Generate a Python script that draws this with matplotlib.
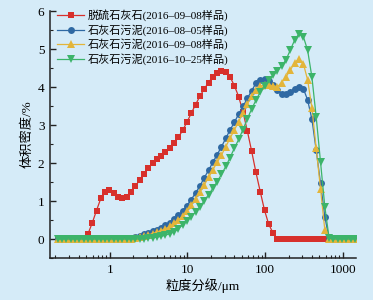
import matplotlib
matplotlib.use("Agg")
import matplotlib.pyplot as plt
from matplotlib.ticker import MultipleLocator, LogLocator, NullFormatter, FixedLocator, FixedFormatter

plt.rcParams['font.family'] = ['Liberation Serif', 'Noto Sans CJK SC']
plt.rcParams['axes.unicode_minus'] = False

# particle size classes (um)
sizes = [0.214, 0.243, 0.276, 0.314, 0.357, 0.405, 0.46, 0.523, 0.594, 0.675,
         0.767, 0.872, 0.991, 1.13, 1.28, 1.45, 1.65, 1.88, 2.13, 2.42,
         2.75, 3.12, 3.55, 4.03, 4.58, 5.21, 5.92, 6.72, 7.64, 8.68,
         9.86, 11.2, 12.7, 14.5, 16.4, 18.7, 21.2, 24.1, 27.4, 31.1,
         35.3, 40.1, 45.6, 51.8, 58.9, 66.9, 76.0, 86.4, 98.1, 111,
         127, 144, 163, 186, 211, 240, 272, 310, 352, 400,
         454, 516, 586, 666, 756, 859, 976, 1110, 1260, 1430]

labels = ["脱硫石灰石(2016–09–08样品)",
          "石灰石污泥(2016–08–05样品)",
          "石灰石污泥(2016–09–08样品)",
          "石灰石污泥(2016–10–25样品)"]

# volume density, %
red = [0, 0, 0, 0, 0, 0, 0, 0.13, 0.42, 0.75,
       1.07, 1.25, 1.28, 1.20, 1.11, 1.07, 1.11, 1.24, 1.39, 1.55,
       1.71, 1.87, 1.99, 2.10, 2.19, 2.28, 2.39, 2.52, 2.68, 2.86,
       3.08, 3.31, 3.54, 3.76, 3.95, 4.12, 4.27, 4.38, 4.42, 4.39,
       4.27, 4.04, 3.75, 3.35, 2.85, 2.32, 1.76, 1.25, 0.76, 0.39,
       0.15, 0, 0, 0, 0, 0, 0, 0, 0, 0,
       0, 0, 0]
blue = [0, 0, 0, 0, 0, 0, 0, 0, 0, 0,
        0, 0, 0, 0, 0, 0, 0, 0, 0.05, 0.09,
        0.13, 0.17, 0.21, 0.24, 0.29, 0.36, 0.43, 0.53, 0.62, 0.75,
        0.88, 1.04, 1.21, 1.40, 1.61, 1.81, 2.02, 2.22, 2.43, 2.65,
        2.87, 3.07, 3.29, 3.49, 3.70, 3.90, 4.10, 4.18, 4.20, 4.16,
        4.05, 3.92, 3.82, 3.81, 3.88, 3.96, 4.01, 3.96, 3.66, 3.15,
        2.34, 1.47, 0.59, 0, 0, 0, 0, 0, 0, 0]
yellow = [0, 0, 0, 0, 0, 0, 0, 0, 0, 0,
          0, 0, 0, 0, 0, 0, 0, 0, 0.02, 0.05,
          0.08, 0.11, 0.14, 0.18, 0.22, 0.27, 0.33, 0.41, 0.50, 0.61,
          0.74, 0.89, 1.06, 1.23, 1.42, 1.62, 1.82, 2.02, 2.21, 2.43,
          2.65, 2.87, 3.09, 3.32, 3.55, 3.77, 3.91, 4.02, 4.06, 4.05,
          4.03, 4.01, 4.12, 4.27, 4.45, 4.64, 4.74, 4.62, 4.19, 3.45,
          2.39, 1.32, 0.24, 0, 0, 0, 0, 0, 0, 0]
green = [0, 0, 0, 0, 0, 0, 0, 0, 0, 0,
         0, 0, 0, 0, 0, 0, 0, 0, 0, 0,
         0.01, 0.02, 0.03, 0.05, 0.07, 0.10, 0.14, 0.19, 0.27, 0.37,
         0.48, 0.59, 0.71, 0.85, 1.00, 1.17, 1.33, 1.51, 1.70, 1.91,
         2.14, 2.39, 2.62, 2.88, 3.16, 3.42, 3.65, 3.87, 4.04, 4.18,
         4.31, 4.43, 4.56, 4.72, 4.98, 5.24, 5.40, 5.33, 4.97, 4.26,
         3.21, 2.03, 0.85, 0.02, 0, 0, 0, 0, 0, 0]

bg = "#d5ebf8"
fig = plt.figure(figsize=(3.73, 3.0), dpi=100, facecolor=bg)
ax = fig.add_axes([0.134, 0.14, 0.82, 0.823], facecolor=bg)

styles = [("s", "#d7302c", 4.5), ("o", "#2f69a3", 5.0),
          ("^", "#e3b53a", 5.5), ("v", "#3cb46a", 5.5)]
for ys, (m, c, ms), lab in zip([red, blue, yellow, green], styles, labels):
    ax.plot(sizes[:len(ys)], ys, marker=m, color=c, ms=ms, mew=0, lw=0.9, label=lab)

ax.set_xscale("log")
ax.set_xlim(0.17, 1470)
ax.set_ylim(-0.5, 6)
ax.xaxis.set_major_locator(FixedLocator([1, 10, 100, 1000]))
ax.xaxis.set_major_formatter(FixedFormatter(["1", "10", "100", "1000"]))
ax.xaxis.set_minor_locator(LogLocator(base=10, subs=range(2, 10), numticks=20))
ax.xaxis.set_minor_formatter(NullFormatter())
ax.yaxis.set_major_locator(MultipleLocator(1))
ax.yaxis.set_minor_locator(MultipleLocator(0.5))

for s in ["top", "right"]:
    ax.spines[s].set_visible(False)
for s in ["left", "bottom"]:
    ax.spines[s].set_linewidth(1.1)
    ax.spines[s].set_color("#222222")
ax.tick_params(which="major", direction="in", length=4, width=1, labelsize=9.5, pad=4, color="#222222")
ax.tick_params(which="minor", direction="in", length=2.5, width=0.8, color="#222222")

ax.set_xlabel("粒度分级/μm", fontsize=9.5, labelpad=2)
ax.set_ylabel("体积密度/%", fontsize=9.5, labelpad=3)

ax.legend(loc="upper left", bbox_to_anchor=(0.01, 1.025), frameon=False, fontsize=8,
          handlelength=2.4, labelspacing=0.25, borderaxespad=0, handletextpad=0.35)

fig.savefig("out.png", dpi=100, facecolor=bg)
